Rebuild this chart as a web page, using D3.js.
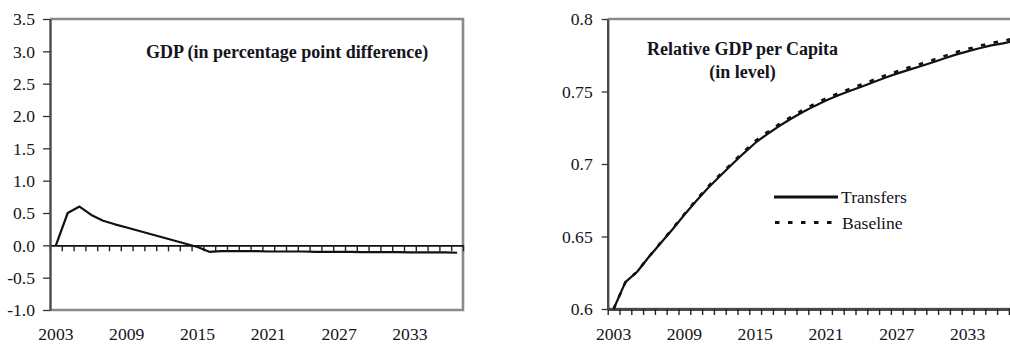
<!DOCTYPE html>
<html>
<head>
<meta charset="utf-8">
<script src="https://cdn.jsdelivr.net/npm/d3@7/dist/d3.min.js"></script>
<style>
  html, body { margin: 0; padding: 0; background: #fff; }
  svg { display: block; font-family: "Liberation Serif", "Times New Roman", serif; }
  text { fill: #141420; }
</style>
</head>
<body>
<svg id="chart" width="1010" height="345"></svg>
<script>
// Simulation years
const years = d3.range(2003, 2038);
const yearLabels = ["2003", "2009", "2015", "2021", "2027", "2033"];

// Left panel: GDP, percentage point difference
const gdpDiff = [0.00, 0.50, 0.60, 0.47, 0.38, 0.325, 0.275, 0.225, 0.175, 0.125, 0.075, 0.025, -0.025,
  -0.10, -0.09, -0.09, -0.09, -0.09, -0.095, -0.095, -0.095, -0.095, -0.10, -0.10, -0.10, -0.10,
  -0.105, -0.105, -0.105, -0.105, -0.11, -0.11, -0.11, -0.11, -0.115];
const gdpTicks = [3.5, 3.0, 2.5, 2.0, 1.5, 1.0, 0.5, 0.0, -0.5, -1.0];
const gdpTickLabels = ["3.5", "3.0", "2.5", "2.0", "1.5", "1.0", "0.5", "0.0", "-0.5", "-1.0"];

// Right panel: relative GDP per capita, level
const transfers = [0.600, 0.6185, 0.6257, 0.636, 0.6455, 0.655, 0.665, 0.6745, 0.6835, 0.6915,
  0.6995, 0.7072, 0.7145, 0.7205, 0.726, 0.731, 0.7357, 0.7399, 0.7438, 0.7472, 0.7504, 0.7533,
  0.7564, 0.7595, 0.7623, 0.7649, 0.7674, 0.7700, 0.7728, 0.7754, 0.7777, 0.7798, 0.7818, 0.7832, 0.785];
const baseline = [0.600, 0.6185, 0.6258, 0.6362, 0.6458, 0.6554, 0.6655, 0.6752, 0.6844, 0.6925,
  0.7003, 0.7083, 0.7158, 0.7218, 0.7273, 0.7323, 0.7371, 0.7413, 0.7452, 0.7486, 0.7518, 0.7548,
  0.7579, 0.7610, 0.7638, 0.7665, 0.7690, 0.7716, 0.7744, 0.7770, 0.7793, 0.7814, 0.7834, 0.7849, 0.7867];
const levelTicks = [0.8, 0.75, 0.7, 0.65, 0.6];
const levelTickLabels = ["0.8", "0.75", "0.7", "0.65", "0.6"];

const svg = d3.select("#chart");
const FS = "17.6px";
const frameColor = "#8a8a8a";
const axisColor = "#4a4a4a";

function panel(opts) {
  const g = svg.append("g");
  const { x0, width, top, bottom } = opts;

  const x = d3.scaleBand().domain(years).range([x0, x0 + width]).padding(0);
  const xEdge = d3.scaleLinear().domain([0, years.length]).range([x0, x0 + width]);
  const y = d3.scaleLinear().domain(opts.yDomain).range([bottom, top]);
  const cx = d => x(d) + x.bandwidth() / 2;

  // frame: top, right, bottom
  g.append("path")
    .attr("d", `M${x0},${top}H${x0 + width}V${bottom}H${x0}`)
    .attr("fill", "none").attr("stroke", frameColor).attr("stroke-width", 2.6);

  // category axis with ticks on category boundaries
  const xAxis = d3.axisBottom(xEdge)
    .tickValues(d3.range(0, years.length + 1))
    .tickSize(6).tickSizeOuter(0).tickFormat("");
  const ax = g.append("g")
    .attr("transform", `translate(0,${y(opts.xAxisAt)})`)
    .call(xAxis);
  ax.select(".domain").attr("stroke", opts.xAxisColor).attr("stroke-width", opts.xAxisWidth);
  ax.selectAll(".tick line").attr("stroke", "#222").attr("stroke-width", 1.4);

  // category labels, every sixth year, below the frame
  g.selectAll("text.xl").data(yearLabels).enter().append("text")
    .attr("class", "xl")
    .attr("x", d => cx(+d)).attr("y", opts.labelY)
    .attr("text-anchor", "middle").style("font-size", FS)
    .text(d => d);

  // value axis
  const yAxis = d3.axisLeft(y).tickValues(opts.ticks).tickSize(opts.yTickSize).tickSizeOuter(0)
    .tickPadding(opts.yPad)
    .tickFormat((d, i) => opts.tickLabels[i]);
  const ay = g.append("g").attr("transform", `translate(${x0},0)`).call(yAxis);
  ay.select(".domain").attr("stroke", axisColor).attr("stroke-width", 2.4);
  ay.selectAll(".tick line").attr("stroke", "#333").attr("stroke-width", 1.3);
  ay.selectAll(".tick text").style("font-size", FS).style("font-family", "Liberation Serif, serif")
    .attr("fill", "#141420").attr("dy", "0.34em");
  ay.attr("font-family", null).attr("font-size", null);

  const line = d3.line().x((d, i) => cx(years[i])).y(d => y(d));
  return { g, x, y, line };
}

// Left panel
const L = panel({
  x0: 50, width: 413, top: 19, bottom: 310, labelY: 340,
  yDomain: [-1.0, 3.5], ticks: gdpTicks, tickLabels: gdpTickLabels,
  xAxisAt: 0, xAxisColor: "#111", xAxisWidth: 1.6, yTickSize: 7, yPad: 8
});
L.g.append("path").datum(gdpDiff)
  .attr("d", L.line).attr("fill", "none")
  .attr("stroke", "#111").attr("stroke-width", 2.2).attr("stroke-linejoin", "round");
L.g.append("text").attr("x", 146).attr("y", 58)
  .style("font-size", "18px").style("font-weight", "bold")
  .text("GDP (in percentage point difference)");

// Right panel
const R = panel({
  x0: 607.7, width: 413, top: 19, bottom: 309, labelY: 340,
  yDomain: [0.6, 0.8], ticks: levelTicks, tickLabels: levelTickLabels,
  xAxisAt: 0.6, xAxisColor: axisColor, xAxisWidth: 3, yTickSize: 6, yPad: 9
});
R.g.append("path").datum(baseline)
  .attr("d", R.line).attr("fill", "none")
  .attr("stroke", "#111").attr("stroke-width", 2.6).attr("stroke-dasharray", "4.5,8.5");
R.g.append("path").datum(transfers)
  .attr("d", R.line).attr("fill", "none")
  .attr("stroke", "#111").attr("stroke-width", 2.2).attr("stroke-linejoin", "round");

R.g.append("text").attr("x", 742.5).attr("y", 55).attr("text-anchor", "middle")
  .style("font-size", "18px").style("font-weight", "bold").text("Relative GDP per Capita");
R.g.append("text").attr("x", 742.5).attr("y", 78).attr("text-anchor", "middle")
  .style("font-size", "18px").style("font-weight", "bold").text("(in level)");

// legend
const legend = R.g.append("g");
legend.append("line").attr("x1", 774).attr("x2", 838).attr("y1", 197).attr("y2", 197)
  .attr("stroke", "#111").attr("stroke-width", 3.2);
legend.append("text").attr("x", 841).attr("y", 203).style("font-size", FS).text("Transfers");
legend.append("line").attr("x1", 775).attr("x2", 833).attr("y1", 222.5).attr("y2", 222.5)
  .attr("stroke", "#111").attr("stroke-width", 3).attr("stroke-dasharray", "4.5,8.5");
legend.append("text").attr("x", 842).attr("y", 229).style("font-size", FS).text("Baseline");
</script>
</body>
</html>
